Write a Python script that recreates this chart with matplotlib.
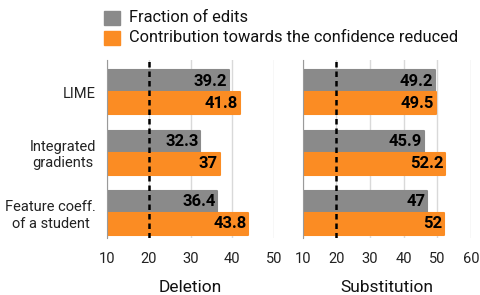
import matplotlib
matplotlib.use("Agg")
import matplotlib.pyplot as plt
from matplotlib.patches import Rectangle

plt.rcParams['font.family'] = ['Roboto', 'DejaVu Sans']

# data
methods = ["LIME", "Integrated\ngradients", "Feature coeff.\nof a student"]
series_names = ["Fraction of edits", "Contribution towards the confidence reduced"]
deletion_edits = [39.2, 32.3, 36.4]
deletion_conf = [41.8, 37, 43.8]
substitution_edits = [49.2, 45.9, 47]
substitution_conf = [49.5, 52.2, 52]
panel_names = ["Deletion", "Substitution"]
deletion_ticks = [10, 20, 30, 40, 50]
substitution_ticks = [10, 20, 30, 40, 50, 60]
threshold = 20

GRAY = "#8a8a8a"
ORANGE = "#fb8c23"

fig = plt.figure(figsize=(4.8, 2.95), dpi=100)
ax1 = fig.add_axes([0.223, 0.193, 0.348, 0.603])
ax2 = fig.add_axes([0.631, 0.193, 0.350, 0.603])


def draw_panel(ax, edits, conf, ticks, name):
    y = list(range(len(methods)))
    h = 0.365
    left = ticks[0]
    for vals, off, col in [(edits, -h / 2, GRAY), (conf, h / 2, ORANGE)]:
        widths = [v - left for v in vals]
        bars = ax.barh([i + off for i in y], widths, height=h, left=left,
                       color=col, edgecolor=col, linewidth=1.5, zorder=2)
        for b in bars:
            b.set_joinstyle("round")
        for i, v in enumerate(vals):
            ax.text(v - 0.4, i + off, f"{v:g}", ha="right", va="center",
                    fontsize=12, fontweight="bold", color="black", zorder=4)
    ax.axvline(threshold, color="black", linestyle=(0, (2.2, 1.6)), linewidth=1.8, zorder=3)
    ax.set_xlim(ticks[0], ticks[-1])
    ax.set_ylim(2.418, -0.533)
    ax.set_xticks(ticks)
    ax.set_yticks(y)
    ax.grid(axis="x", color="#d9d9d9", linewidth=1, zorder=0)
    ax.tick_params(axis="both", length=0, labelsize=10.5, pad=10, colors="#222222")
    for s in ["top", "right", "bottom"]:
        ax.spines[s].set_visible(False)
    ax.spines["left"].set_color("#9a9a9a")
    ax.set_xlabel(name, fontsize=12.5, labelpad=10, color="#111111")


draw_panel(ax1, deletion_edits, deletion_conf, deletion_ticks, panel_names[0])
draw_panel(ax2, substitution_edits, substitution_conf, substitution_ticks, panel_names[1])

ax1.set_yticklabels(methods, fontsize=10.5, multialignment="center")
ax1.tick_params(axis="y", pad=8)
ax2.set_yticklabels([])

# legend drawn by hand at the top
for k, col in enumerate([GRAY, ORANGE]):
    top = 11 + k * 20
    fig.add_artist(Rectangle((104 / 480, 1 - (top + 14) / 295), 16 / 480, 14 / 295,
                             transform=fig.transFigure, color=col))
    fig.text(129 / 480, 1 - (top + 7) / 295, series_names[k], fontsize=11.8,
             va="center", ha="left", color="#111111")

fig.savefig("out.png", dpi=100)
